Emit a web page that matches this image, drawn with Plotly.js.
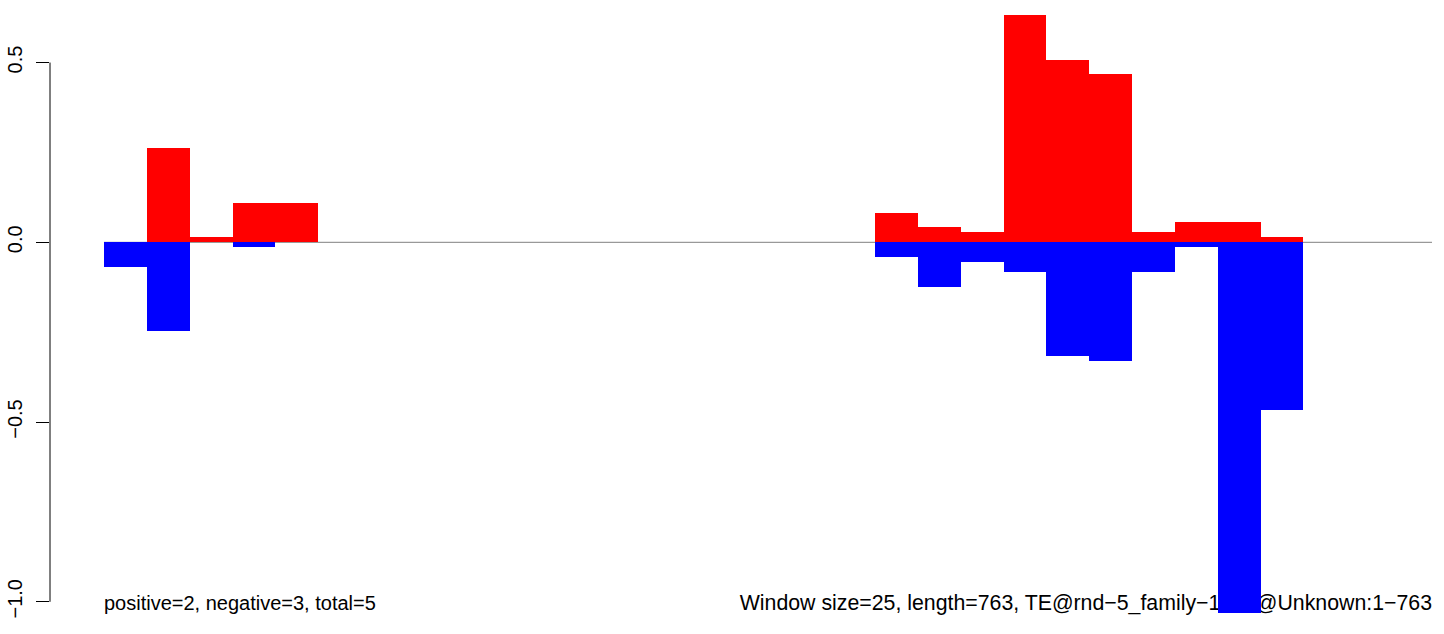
<!DOCTYPE html>
<html>
<head>
<meta charset="utf-8">
<script src="https://cdn.plot.ly/plotly-3.0.1.min.js"></script>
<style>html,body{margin:0;padding:0;background:#fff;}#chart{width:1444px;height:634px;}</style>
</head>
<body>
<div id="chart"></div>
<script>
// Window starts (window size 25, sequence length 763)
const windowSize = 25;
const windowStarts = [0,25,50,75,100,125,150,175,200,225,250,275,300,325,350,375,400,425,450,475,500,525,550,575,600,625,650,675,700,725,750];
// Positive-strand scores (red) and negative-strand scores (blue) per window
const positiveValues = [0,0.262,0.015,0.109,0.109,0,0,0,0,0,0,0,0,0,0,0,0,0,0.081,0.043,0.029,0.632,0.507,0.468,0.029,0.056,0.056,0.015,0,0,0];
const negativeValues = [-0.068,-0.247,0,-0.013,0,0,0,0,0,0,0,0,0,0,0,0,0,0,-0.041,-0.124,-0.055,-0.083,-0.315,-0.330,-0.083,-0.013,-1.030,-0.466,0,0,0];
const yTickVals = [-1,-0.5,0,0.5];
const yTickText = ['\u22121.0','\u22120.5','0.0','0.5'];
const leftLabel = 'positive=2, negative=3, total=5';
const rightLabel = 'Window size=25, length=763, TE@rnd\u22125_family\u22121648@Unknown:1\u2212763';
const xEnd = windowStarts.length * windowSize;

const FONT = 'Liberation Sans, Arial, Helvetica, sans-serif';
const xRange = [-31.5, xEnd];
const yRange = [-1.0896, 0.674];

const traces = [
  {
    type: 'scatter', mode: 'text', xaxis: 'x', yaxis: 'y',
    x: [0], y: [-1.008], text: [leftLabel], textposition: 'middle right',
    textfont: {family: FONT, size: 20, color: '#000'}, cliponaxis: false, hoverinfo: 'skip', showlegend: false
  },
  {
    type: 'scatter', mode: 'text', xaxis: 'x', yaxis: 'y',
    x: [xEnd], y: [-1.008], text: [rightLabel], textposition: 'middle left',
    textfont: {family: FONT, size: 21.3, color: '#000'}, cliponaxis: false, hoverinfo: 'skip', showlegend: false
  },
  {
    type: 'bar', xaxis: 'x2', yaxis: 'y2',
    x: windowStarts, y: positiveValues, base: 0, width: windowSize, offset: 0,
    marker: {color: '#FF0000', line: {width: 0}}, showlegend: false
  },
  {
    type: 'bar', xaxis: 'x2', yaxis: 'y2',
    x: windowStarts, y: negativeValues, base: 0, width: windowSize, offset: 0,
    marker: {color: '#0000FF', line: {width: 0}}, showlegend: false
  }
];

const layout = {
  width: 1444, height: 634,
  margin: {l: 50, r: 12, t: 0, b: 0, pad: 0},
  paper_bgcolor: '#fff', plot_bgcolor: 'rgba(0,0,0,0)',
  barmode: 'overlay', bargap: 0,
  showlegend: false,
  font: {family: FONT, size: 20, color: '#000'},
  xaxis: {range: xRange, visible: false, fixedrange: true},
  yaxis: {
    range: yRange, showgrid: false, zeroline: false, showline: false,
    tickmode: 'array', tickvals: yTickVals, ticktext: yTickText,
    ticks: 'outside', ticklen: 13, tickwidth: 1, tickcolor: '#000',
    tickangle: -90, tickfont: {family: FONT, size: 20, color: '#000'},
    ticklabelstandoff: 6, fixedrange: true
  },
  xaxis2: {range: xRange, overlaying: 'x', visible: false, fixedrange: true},
  yaxis2: {range: yRange, overlaying: 'y', visible: false, fixedrange: true},
  shapes: [
    {type: 'line', xref: 'x', yref: 'y', x0: 0, x1: xEnd, y0: 0, y1: 0,
     line: {color: '#808080', width: 1}, layer: 'below'},
    {type: 'line', xref: 'paper', yref: 'y', x0: 0, x1: 0, y0: yTickVals[0], y1: yTickVals[yTickVals.length-1],
     line: {color: '#000', width: 1}, layer: 'above'}
  ]
};

Plotly.newPlot('chart', traces, layout, {displayModeBar: false, staticPlot: true});
</script>
</body>
</html>
